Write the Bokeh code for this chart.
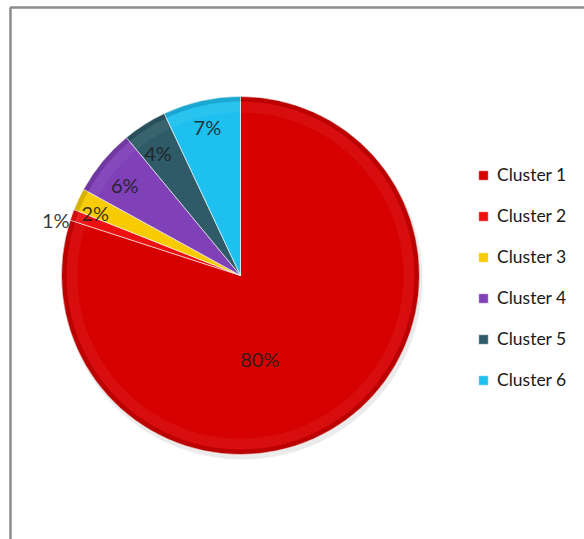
import numpy as np
from bokeh.plotting import figure
from bokeh.models import ColumnDataSource, Legend, LegendItem
from bokeh.core.properties import value
from bokeh.embed import file_html
from bokeh.resources import INLINE

# ---- data ----
clusters = ["Cluster 1", "Cluster 2", "Cluster 3", "Cluster 4", "Cluster 5", "Cluster 6"]
percents = [80, 1, 2, 6, 4, 7]
colors = ["#D60000", "#EE1010", "#F7CB00", "#8040B8", "#2F5B68", "#1EC0F0"]

# ---- layout/style params ----
W, H = 584, 539
CX, CY, R = 240, H - 275, 179
label_r = [86, 193, 158, 147, 148, 152]
label_dang = [-23, 3, 2, 1.5, 1.5, 0]

vals = np.array(percents, dtype=float)
frac = vals / vals.sum()
cum = np.concatenate([[0], np.cumsum(frac)])
start = np.pi / 2 - cum[:-1] * 2 * np.pi
end = np.pi / 2 - cum[1:] * 2 * np.pi
mid = (start + end) / 2 + np.radians(label_dang)
lx = CX + np.array(label_r) * np.cos(mid)
ly = CY + np.array(label_r) * np.sin(mid)

src = ColumnDataSource(dict(
    name=clusters, start=start, end=end, color=colors,
    lx=lx, ly=ly, txt=[f"{p}%" for p in percents],
))

p = figure(width=W, height=H, x_range=(0, W), y_range=(0, H),
           output_backend="svg", toolbar_location=None, min_border=0,
           background_fill_color="white", border_fill_color="white")
p.axis.visible = False
p.grid.visible = False
p.outline_line_color = None

# frame of chart area
p.line([10, 10, W + 5], [-5, H - 7, H - 7], line_color="#8c8c8c", line_width=2.5)

# soft shadow
p.wedge(x=CX + 2, y=CY - 4, radius=R + 1, start_angle=0, end_angle=2 * np.pi,
        fill_color="#000000", fill_alpha=0.08, line_color=None)

wr = p.wedge(x=CX, y=CY, radius=R, start_angle="start", end_angle="end",
             direction="clock", fill_color="color", line_color="white",
             line_alpha=0.6, line_width=1, source=src)

# bevel effect: darker rim and lighter inner band
p.annular_wedge(x=CX, y=CY, inner_radius=R - 5, outer_radius=R,
                start_angle="start", end_angle="end", direction="clock",
                fill_color="#000000", fill_alpha=0.12, line_color=None, source=src)
p.annular_wedge(x=CX, y=CY, inner_radius=R - 16, outer_radius=R - 5,
                start_angle="start", end_angle="end", direction="clock",
                fill_color="#ffffff", fill_alpha=0.05, line_color=None, source=src)

p.text(x="lx", y="ly", text="txt", source=src, text_align="center",
       text_baseline="middle", text_font=value("Lato"), text_font_size="20px",
       text_color="#1e1e1e", text_alpha=0.9)

items = [LegendItem(label=c, renderers=[wr], index=i) for i, c in enumerate(clusters)]
legend = Legend(items=items, location=(477, 149), orientation="vertical",
                glyph_width=12, glyph_height=12, label_height=20, spacing=20,
                label_standoff=8, padding=0, margin=0, border_line_color=None,
                background_fill_alpha=0, label_text_font="Lato",
                label_text_font_size="17.5px", label_text_color="#1a1a1a")
p.add_layout(legend, "center")

open("out.html", "w").write(file_html(p, INLINE))
